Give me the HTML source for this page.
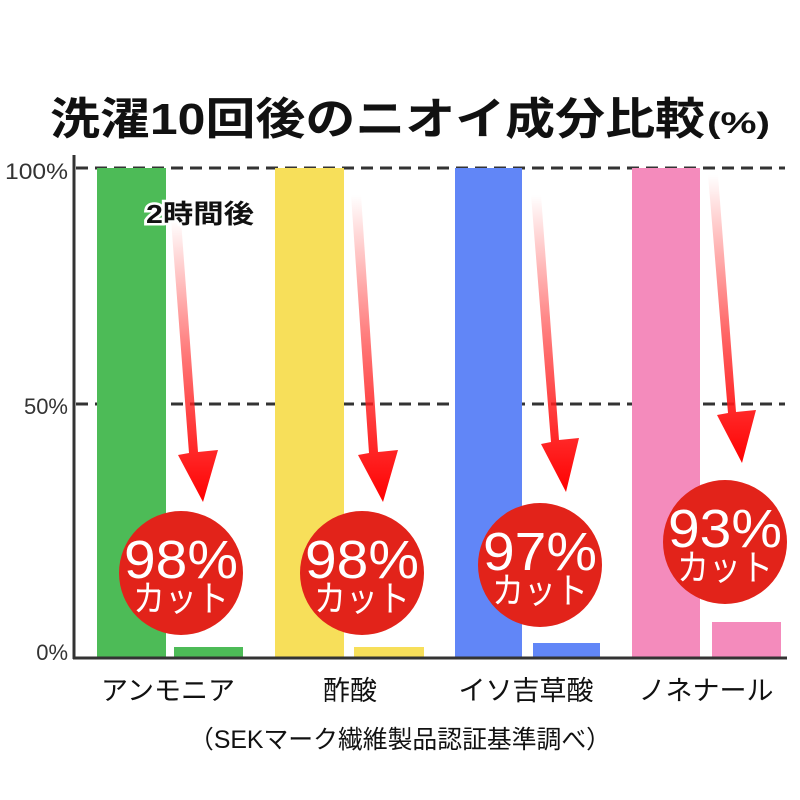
<!DOCTYPE html>
<html><head><meta charset="utf-8"><style>
html,body{margin:0;padding:0;background:#fff;}
svg{display:block;}
text{font-family:"Liberation Sans","Noto Sans CJK JP",sans-serif;}
</style></head><body>
<svg width="800" height="800" viewBox="0 0 800 800" xmlns="http://www.w3.org/2000/svg">
<defs>
<linearGradient id="g" x1="0" y1="0" x2="0" y2="1">
<stop offset="0" stop-color="#ff0000" stop-opacity="0"/>
<stop offset="0.75" stop-color="#ff2020" stop-opacity="0.9"/>
<stop offset="1" stop-color="#ff0000"/>
</linearGradient>
</defs>
<text x="50" y="134" font-size="44" font-weight="bold" fill="#111" textLength="655" lengthAdjust="spacingAndGlyphs">洗濯10回後のニオイ成分比較</text>
<text x="707" y="133" font-size="30" font-weight="bold" fill="#111" textLength="63" lengthAdjust="spacingAndGlyphs">(%)</text>
<!-- grid -->
<line x1="76" y1="168" x2="785" y2="168" stroke="#333" stroke-width="3" stroke-dasharray="12,7"/>
<line x1="76" y1="404" x2="785" y2="404" stroke="#333" stroke-width="3" stroke-dasharray="12,7"/>
<!-- bars -->
<rect x="97" y="168" width="69" height="490" fill="#4dbb57"/>
<rect x="174" y="647" width="69" height="11" fill="#4dbb57"/>
<rect x="275" y="168" width="69" height="490" fill="#f7df5a"/>
<rect x="354" y="647" width="70" height="11" fill="#f7df5a"/>
<rect x="455" y="168" width="67" height="490" fill="#6186f7"/>
<rect x="533" y="643" width="67" height="15" fill="#6186f7"/>
<rect x="632" y="168" width="68" height="490" fill="#f48bbc"/>
<rect x="712" y="622" width="69" height="36" fill="#f48bbc"/>
<!-- axes -->
<line x1="74" y1="155" x2="74" y2="659" stroke="#333" stroke-width="3"/>
<line x1="73" y1="658" x2="787" y2="658" stroke="#333" stroke-width="3"/>
<text x="68" y="179" text-anchor="end" font-size="22" fill="#333" textLength="63" lengthAdjust="spacingAndGlyphs">100%</text>
<text x="68" y="414" text-anchor="end" font-size="22" fill="#333">50%</text>
<text x="68" y="660" text-anchor="end" font-size="22" fill="#333">0%</text>
<!-- arrows -->
<g fill="url(#g)">
<polygon points="171,220 181,220 198,452 218,450 203,502 178,455 189,453"/>
<polygon points="351,195 361,195 378,452 398,450 383,502 358,455 369,453"/>
<polygon points="531,195 541,195 559,440 579,438 566,492 541,444 551,442"/>
<polygon points="708,175 718,175 736,412 756,410 742,463 717,415 728,413"/>
</g>
<text x="200" y="223" text-anchor="middle" font-size="26" font-weight="bold" fill="#111" stroke="#fff" stroke-width="5" paint-order="stroke" textLength="108" lengthAdjust="spacingAndGlyphs">2時間後</text>
<!-- circles -->
<g fill="#e2231a">
<circle cx="181" cy="573" r="62"/>
<circle cx="362" cy="573" r="62"/>
<circle cx="540" cy="565" r="62"/>
<circle cx="725" cy="542" r="62"/>
</g>
<g fill="#fff" text-anchor="middle">
<text x="181" y="578" font-size="54" textLength="114" lengthAdjust="spacingAndGlyphs">98%</text>
<text x="181" y="611" font-size="36" textLength="96" lengthAdjust="spacingAndGlyphs">カット</text>
<text x="362" y="578" font-size="54" textLength="114" lengthAdjust="spacingAndGlyphs">98%</text>
<text x="362" y="611" font-size="36" textLength="96" lengthAdjust="spacingAndGlyphs">カット</text>
<text x="540" y="570" font-size="54" textLength="114" lengthAdjust="spacingAndGlyphs">97%</text>
<text x="540" y="603" font-size="36" textLength="96" lengthAdjust="spacingAndGlyphs">カット</text>
<text x="725" y="547" font-size="54" textLength="114" lengthAdjust="spacingAndGlyphs">93%</text>
<text x="725" y="580" font-size="36" textLength="96" lengthAdjust="spacingAndGlyphs">カット</text>
</g>
<g font-size="27" fill="#111" text-anchor="middle">
<text x="168" y="700">アンモニア</text>
<text x="350" y="700">酢酸</text>
<text x="526" y="700">イソ吉草酸</text>
<text x="706" y="700">ノネナール</text>
</g>
<text x="400" y="748" text-anchor="middle" font-size="25" fill="#111" textLength="422" lengthAdjust="spacingAndGlyphs">（SEKマーク繊維製品認証基準調べ）</text>
</svg>
</body></html>
